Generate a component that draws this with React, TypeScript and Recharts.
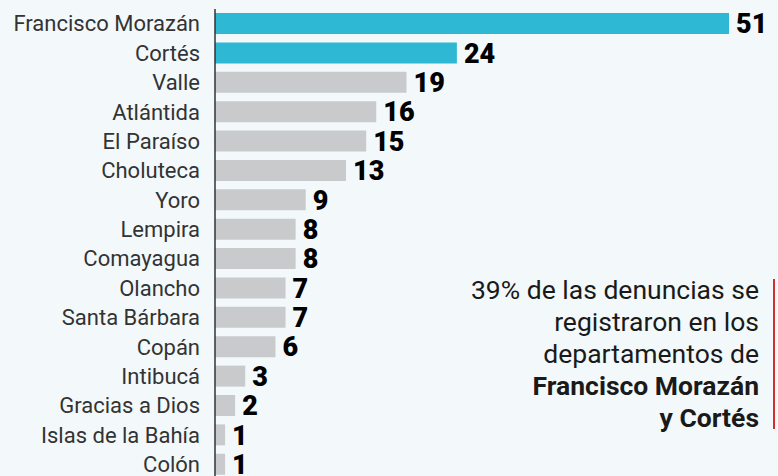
import { BarChart, Bar, XAxis, YAxis, Cell, LabelList } from "recharts"

const departamentos = [
  "Francisco Morazán",
  "Cortés",
  "Valle",
  "Atlántida",
  "El Paraíso",
  "Choluteca",
  "Yoro",
  "Lempira",
  "Comayagua",
  "Olancho",
  "Santa Bárbara",
  "Copán",
  "Intibucá",
  "Gracias a Dios",
  "Islas de la Bahía",
  "Colón",
]

const denuncias = [51, 24, 19, 16, 15, 13, 9, 8, 8, 7, 7, 6, 3, 2, 1, 1]

const destacados = ["Francisco Morazán", "Cortés"]

const data = departamentos.map((name, i) => ({
  name,
  value: denuncias[i],
}))

const ValueLabel = (props: any) => {
  const { x, y, width, height, value } = props
  return (
    <text
      x={x + width + 7}
      y={y + height / 2}
      dy="0.36em"
      fontFamily="Roboto, sans-serif"
      fontWeight={900}
      fontSize={27}
      fill="#000"
    >
      {value}
    </text>
  )
}

export default function App() {
  return (
    <div
      style={{
        position: "fixed",
        left: 0,
        top: 0,
        width: 778,
        height: 476,
        overflow: "hidden",
        background: "#f3f9fb",
        fontFamily: "Roboto, sans-serif",
      }}
    >
      <BarChart
        width={778}
        height={490}
        data={data}
        layout="vertical"
        margin={{ top: 9, right: 49, bottom: 11, left: 0 }}
        barCategoryGap="14%"
      >
        <XAxis type="number" domain={[0, 51]} hide />
        <YAxis
          type="category"
          dataKey="name"
          width={215}
          interval={0}
          tickLine={false}
          axisLine={{ stroke: "#333", strokeWidth: 1.5 }}
          tickMargin={9}
          tick={{ fill: "#333", fontSize: 22, fontFamily: "Roboto, sans-serif" }}
        />
        <Bar dataKey="value" isAnimationActive={false}>
          {data.map((d) => (
            <Cell
              key={d.name}
              fill={destacados.includes(d.name) ? "#2eb8d3" : "#c8cacc"}
            />
          ))}
          <LabelList dataKey="value" content={ValueLabel} />
        </Bar>
      </BarChart>

      {/* nota al margen */}
      <div
        style={{
          position: "absolute",
          right: 19,
          top: 274,
          textAlign: "right",
          fontSize: 26.5,
          lineHeight: "32px",
          color: "#1a1a1a",
          whiteSpace: "nowrap",
        }}
      >
        39% de las denuncias se
        <br />
        registraron en los
        <br />
        departamentos de
        <br />
        <b>Francisco Morazán</b>
        <br />
        <b>y Cortés</b>
      </div>
      <div
        style={{
          position: "absolute",
          left: 773,
          top: 279,
          width: 2,
          height: 150,
          background: "#d32f2f",
        }}
      />
    </div>
  )
}
